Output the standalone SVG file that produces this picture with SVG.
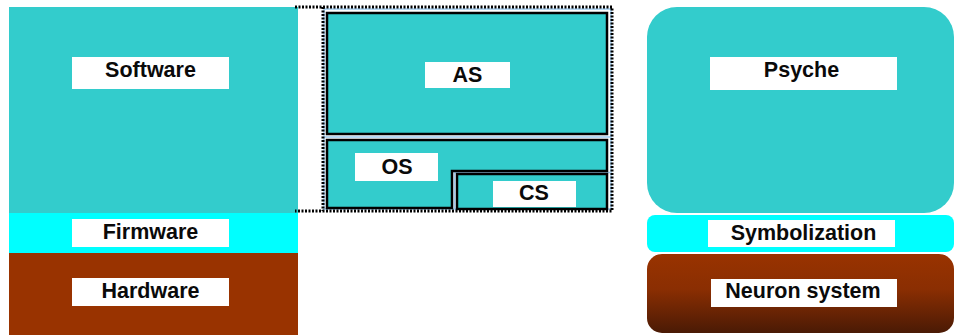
<svg xmlns="http://www.w3.org/2000/svg" width="954" height="335" viewBox="0 0 954 335">
<defs>
<style>
.teal{fill:#33CCCC}
.cyan{fill:#00FFFF}
.brown{fill:#993300}
.lbl{fill:#FFFFFF}
.t{font-family:"Liberation Sans",Arial,sans-serif;font-weight:bold;font-size:21.5px;fill:#0a0a0a;text-anchor:middle;dominant-baseline:central}
.box{fill:#33CCCC;stroke:#000;stroke-width:2.5}
.dot{fill:none;stroke:#000;stroke-width:3;stroke-dasharray:2 1.5}
.lb{fill:none;stroke:#9ECBEF;stroke-width:1.5}
</style>
<linearGradient id="ng" x1="0" y1="0" x2="0" y2="1">
<stop offset="0" stop-color="#993300"/>
<stop offset="0.45" stop-color="#8a2e02"/>
<stop offset="1" stop-color="#4a1a05"/>
</linearGradient>
</defs>
<rect width="954" height="335" fill="#FFFFFF"/>
<g id="software"><rect class="teal" x="9" y="7" width="289" height="206"/><rect class="lbl" x="72" y="57" width="157" height="32"/><text class="t" x="150.5" y="70">Software</text></g>
<g id="firmware"><rect class="cyan" x="9" y="213" width="289" height="40"/><rect class="lbl" x="72" y="219" width="157" height="28"/><text class="t" x="150.5" y="232">Firmware</text></g>
<g id="hardware"><rect class="brown" x="9" y="253" width="289" height="82"/><rect class="lbl" x="72" y="278" width="157" height="28"/><text class="t" x="150.5" y="291">Hardware</text></g>
<g id="bracket">
<rect class="lb" x="324" y="9" width="287" height="200"/>
<line class="lb" x1="324" y1="137" x2="611" y2="137"/>
<path class="lb" d="M454.5 209 V172.5 H610"/>
<path class="dot" d="M295 7 H612 V211 H295 M323 7 V211"/>
</g>
<g id="as"><rect class="box" x="327" y="13" width="280" height="121"/><rect class="lbl" x="425" y="62" width="85" height="26"/><text class="t" x="467.5" y="75">AS</text></g>
<g id="os"><path class="box" d="M327 140 H607 V171 H452 V208 H327 Z"/><rect class="lbl" x="355" y="153" width="83" height="28"/><text class="t" x="397" y="166.5">OS</text></g>
<g id="cs"><rect class="box" x="457" y="174" width="150" height="35"/><rect class="lbl" x="493" y="181" width="83" height="26"/><text class="t" x="534" y="192.5">CS</text></g>
<g id="psyche"><rect class="teal" x="647" y="7" width="307" height="206" rx="30" ry="30"/><rect class="lbl" x="710" y="57" width="187" height="33"/><text class="t" x="801.5" y="70">Psyche</text></g>
<g id="symbolization"><rect class="cyan" x="647" y="215" width="307" height="37" rx="8" ry="8"/><rect class="lbl" x="708" y="220" width="187" height="27"/><text class="t" x="803.5" y="232.5">Symbolization</text></g>
<g id="neuron"><rect fill="url(#ng)" x="647" y="254" width="307" height="79" rx="15" ry="15"/><rect class="lbl" x="711" y="279" width="186" height="28"/><text class="t" x="803" y="291">Neuron system</text></g>
<g id="connectors"></g>
</svg>
